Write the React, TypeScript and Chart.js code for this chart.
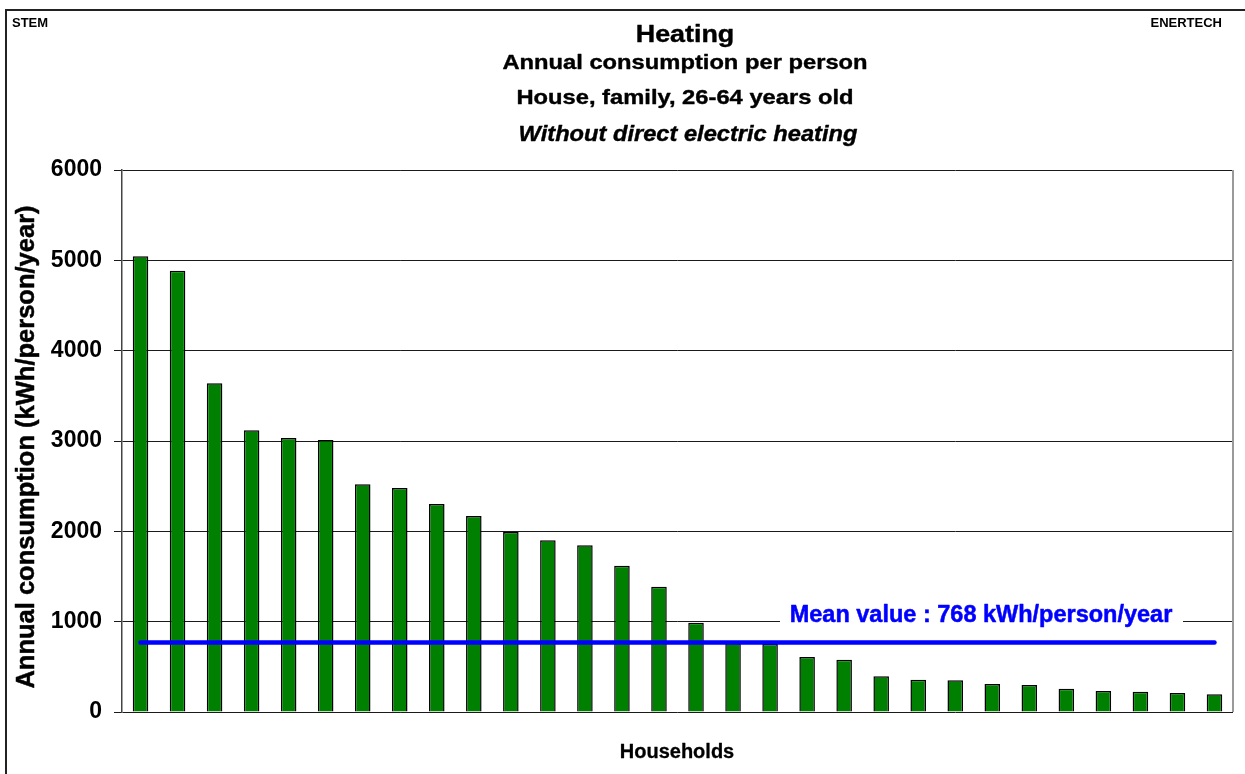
import React, { useEffect, useRef } from "react";
import { Chart, registerables } from "chart.js";

Chart.register(...registerables);

const households: string[] = [
  "1", "2", "3", "4", "5", "6", "7", "8", "9", "10",
  "11", "12", "13", "14", "15", "16", "17", "18", "19", "20",
  "21", "22", "23", "24", "25", "26", "27", "28", "29", "30",
];

const consumption: number[] = [
  5045, 4886, 3639, 3118, 3033, 3011, 2520, 2480, 2303, 2170,
  1993, 1900, 1845, 1620, 1387, 989, 760, 752, 609, 579,
  395, 358, 351, 310, 299, 258, 232, 225, 210, 196,
];

const meanValue = 768;
const meanSeries: number[] = households.map(() => meanValue);

const yTicks: number[] = [0, 1000, 2000, 3000, 4000, 5000, 6000];

const titleLines: string[] = [
  "Heating",
  "Annual consumption per person",
  "House, family, 26-64 years old",
  "Without direct electric heating",
];
const meanLabel = "Mean value : 768 kWh/person/year";
const yTitle = "Annual consumption (kWh/person/year)";
const xTitle = "Households";
const leftCorner = "STEM";
const rightCorner = "ENERTECH";

const FONT = "'Liberation Sans', Arial, Helvetica, sans-serif";

function drawText(
  ctx: CanvasRenderingContext2D,
  text: string,
  x: number,
  y: number,
  font: string,
  color: string,
  align: CanvasTextAlign,
  baseline: CanvasTextBaseline,
  sx = 1,
  rot = 0,
  stroke = 0
) {
  ctx.save();
  ctx.translate(x, y);
  if (rot) ctx.rotate(rot);
  ctx.scale(sx, 1);
  ctx.font = font;
  ctx.fillStyle = color;
  ctx.textAlign = align;
  ctx.textBaseline = baseline;
  ctx.fillText(text, 0, 0);
  if (stroke > 0) {
    ctx.strokeStyle = color;
    ctx.lineWidth = stroke;
    ctx.lineJoin = "round";
    ctx.strokeText(text, 0, 0);
  }
  ctx.restore();
}

const decorPlugin = {
  id: "decor",
  afterDraw(chart: any) {
    const ctx: CanvasRenderingContext2D = chart.ctx;
    const area = chart.chartArea;
    const yScale = chart.scales.y;
    const cx = 685;

    // outer frame (left and top)
    ctx.save();
    ctx.strokeStyle = "#222";
    ctx.lineWidth = 2;
    ctx.beginPath();
    ctx.moveTo(6, 780);
    ctx.lineTo(6, 10);
    ctx.lineTo(1250, 10);
    ctx.stroke();

    // plot right border
    ctx.strokeStyle = "#9a9a9a";
    ctx.lineWidth = 2;
    ctx.beginPath();
    ctx.moveTo(area.right, area.top);
    ctx.lineTo(area.right, area.bottom);
    ctx.stroke();
    ctx.restore();

    drawText(ctx, leftCorner, 12, 23, `bold 13px ${FONT}`, "#000", "left", "middle");
    drawText(ctx, rightCorner, 1222, 23, `bold 13px ${FONT}`, "#000", "right", "middle");

    drawText(ctx, titleLines[0], cx, 41.5, `bold 24px ${FONT}`, "#000", "center", "alphabetic", 1.12, 0, 0.4);
    drawText(ctx, titleLines[1], cx, 68.5, `bold 21px ${FONT}`, "#000", "center", "alphabetic", 1.13, 0, 0.4);
    drawText(ctx, titleLines[2], cx, 104, `bold 21px ${FONT}`, "#000", "center", "alphabetic", 1.13, 0, 0.4);
    drawText(ctx, titleLines[3], cx + 3, 140.5, `italic bold 21.5px ${FONT}`, "#000", "center", "alphabetic", 1.1, 0, 0.4);

    // mean label with white background covering gridline
    const ly = yScale.getPixelForValue(1000);
    ctx.save();
    ctx.fillStyle = "#fff";
    ctx.fillRect(780, ly - 24, 403, 28);
    ctx.restore();
    drawText(ctx, meanLabel, 981, ly, `bold 23.5px ${FONT}`, "#0000ff", "center", "alphabetic", 1, 0, 0.5);

    drawText(ctx, yTitle, 27, (area.top + area.bottom) / 2 + 6, `bold 25.5px ${FONT}`, "#000", "center", "middle", 1, -Math.PI / 2, 0.5);
    drawText(ctx, xTitle, cx - 8, 752, `bold 20px ${FONT}`, "#000", "center", "middle", 1, 0, 0.3);
  },
};

export default function App() {
  const ref = useRef<HTMLCanvasElement | null>(null);

  useEffect(() => {
    document.body.style.margin = "0";
    const canvas = ref.current;
    if (!canvas) return;
    const chart = new Chart(canvas, {
      type: "bar",
      data: {
        labels: households,
        datasets: [
          {
            type: "line",
            label: "Mean",
            data: meanSeries,
            borderColor: "#0000ff",
            borderWidth: 4.5,
            borderCapStyle: "round",
            pointRadius: 0,
            fill: false,
            order: 0,
          } as any,
          {
            type: "bar",
            label: "Consumption",
            data: consumption,
            backgroundColor: "#008000",
            borderColor: "#000000",
            borderWidth: 1.5,
            categoryPercentage: 1,
            barPercentage: 0.42,
            order: 1,
          } as any,
        ],
      },
      options: {
        responsive: false,
        animation: false,
        layout: { padding: { top: 170, bottom: 62, right: 12, left: 0 } },
        plugins: {
          legend: { display: false },
          tooltip: { enabled: false },
          title: { display: false },
        },
        scales: {
          x: {
            display: false,
            offset: true,
          },
          y: {
            min: 0,
            max: 6000,
            afterBuildTicks(scale: any) {
              scale.ticks = yTicks.map((v) => ({ value: v }));
            },
            afterFit(scale: any) {
              scale.width = 122;
            },
            ticks: {
              padding: 12,
              color: "#000",
              font: { family: FONT, size: 23, weight: "bold" },
              callback: (v: any) => String(v),
            },
            grid: {
              color: "#1a1a1a",
              lineWidth: 1,
              tickLength: 8,
              drawTicks: true,
            },
            border: { display: true, color: "#444", width: 1.5 },
          },
        },
      } as any,
      plugins: [decorPlugin],
    });
    return () => chart.destroy();
  }, []);

  return (
    <div style={{ width: 1245, height: 774 }}>
      <canvas ref={ref} width={1245} height={774} style={{ display: "block" }} />
    </div>
  );
}
